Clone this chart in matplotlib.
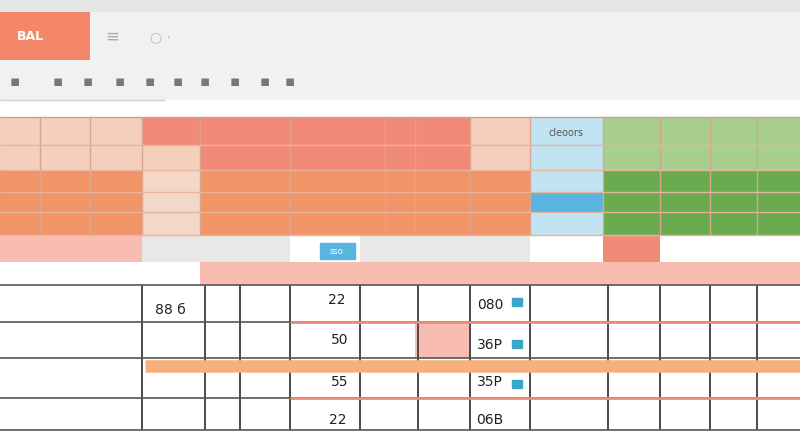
import matplotlib
matplotlib.use("Agg")
import matplotlib.pyplot as plt
from matplotlib.colors import ListedColormap
import numpy as np

# cell grid (pixel-like units of the screenshot)
col_edges = [0, 40, 90, 142, 200, 290, 360, 385, 415, 470, 530, 603, 660, 710, 757, 800]
row_edges = [0, 12, 60, 100, 117, 145, 170, 192, 212, 235, 262, 285, 322, 358, 398, 430, 440]

palette = {
    "g": "#e6e6e6", "t": "#f1f1f1", "o": "#f4876a", "w": "#ffffff",
    "p": "#f4cfbb", "s": "#f28a78", "b": "#c2e3f2", "B": "#5ab4e0",
    "G": "#a8cf8c", "D": "#6aab4f", "O": "#f19468", "l": "#f3d8ca",
    "r": "#f9bcb0", "k": "#e8e8e8",
}
cell_rows = [
    "ggggggggggggggg",
    "oottttttttttttt",
    "ttttttttttttttt",
    "wwwwwwwwwwwwwww",
    "pppsssssspbGGGG",
    "ppppssssspbGGGG",
    "OOOlOOOOOObDDDD",
    "OOOlOOOOOOBDDDD",
    "OOOlOOOOOObDDDD",
    "rrrkkwkkkkwswww",
    "wwwwrrrrrrrrrrr",
    "wwwwwwwwwwwwwww",
    "wwwwwwwwrwwwwww",
    "wwwwwwwwwwwwwww",
    "wwwwwwwwwwwwwww",
    "wwwwwwwwwwwwwww",
]
keys = list(palette)
grid = np.array([[keys.index(c) for c in row] for row in cell_rows])

body_cols = [142, 205, 240, 290, 360, 418, 470, 530, 608, 660, 710, 757]
body_rows = [285, 322, 358, 398, 430]
head_cols = [40, 90, 142, 200, 290, 385, 415, 470, 530, 603, 660, 710, 757]
head_rows = [145, 170, 192, 212, 235]

numbers = ["88 б", "22", "50", "55", "22", "080", "36P", "35P", "06B"]
num_x = [170, 337, 340, 340, 338, 490, 490, 490, 490]
num_y = [310, 300, 340, 382, 420, 305, 345, 382, 420]

fig = plt.figure(figsize=(8, 4.4), dpi=100)
ax = fig.add_axes([0, 0, 1, 1])
ax.pcolormesh(col_edges, row_edges, grid, cmap=ListedColormap(list(palette.values())),
              vmin=-0.5, vmax=len(keys) - 0.5)

# header grid lines
ax.vlines(head_cols, 117, 235, colors="#d9a58e", lw=1)
ax.hlines(head_rows, 0, 800, colors="#e8b49c", lw=1)
ax.hlines(117, 0, 800, colors="#c9a090", lw=1)
# body grid lines
ax.vlines(body_cols, 285, 430, colors="#4a4a4a", lw=1.4)
ax.hlines(body_rows, 0, 800, colors="#555555", lw=1.2)
ax.hlines([322, 398], 290, 800, colors="#f08a70", lw=2)
ax.hlines(366, 145, 800, colors="#f6b07c", lw=9)
ax.hlines(100, 0, 165, colors="#d0d0d0", lw=1)

# toolbar
ax.text(30, 37, "BAL", color="white", fontsize=9, va="center", ha="center", weight="bold")
ax.text(105, 37, "≡", color="#aaaaaa", fontsize=12, va="center")
ax.text(150, 37, "○ ·", color="#bbbbbb", fontsize=10, va="center")
for x in [15, 58, 88, 120, 150, 178, 205, 235, 265, 290]:
    ax.text(x, 82, "▪", color="#777777", fontsize=11, va="center", ha="center")
ax.text(566, 133, "cleoors", color="#555555", fontsize=7, ha="center", va="center")
ax.add_patch(plt.Rectangle((320, 243), 35, 16, color="#5ab4e0"))
ax.text(337, 251, "sso", color="white", fontsize=6, ha="center", va="center")

for t, x, y in zip(numbers, num_x, num_y):
    ax.text(x, y, t, fontsize=10, ha="center", va="center", color="#222222")
for y in [298, 340, 380]:
    ax.add_patch(plt.Rectangle((512, y), 10, 8, color="#3aa6c8"))

ax.set_xlim(0, 800)
ax.set_ylim(440, 0)
ax.axis("off")
fig.savefig("out.png")
